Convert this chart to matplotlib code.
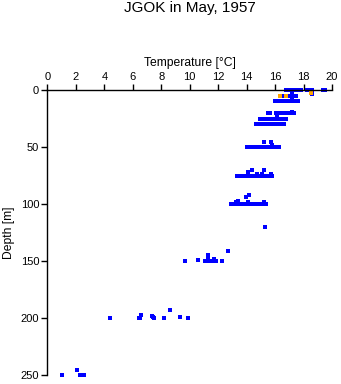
import numpy as np
import matplotlib
matplotlib.use('Agg')
import matplotlib.pyplot as plt

# standard depth levels [m] and the temperatures measured at each [degC]
levels = [0, 5, 10, 20, 25, 30, 50, 75, 100, 150, 200, 250]
t_0 = [16.75, 16.85, 16.95, 17.05, 17.15, 17.25, 17.35, 17.45, 17.55, 17.65,
       17.75, 17.85, 18.25, 18.35, 18.45, 18.6, 19.35, 19.5]
t_5 = [16.6, 16.95, 17.05, 17.15, 17.25, 17.35, 17.45]
t_10 = [16.0, 16.1, 16.4, 16.5, 16.6, 16.7, 16.8, 16.9, 17.0, 17.1, 17.2,
        17.3, 17.4, 17.5, 17.6]
t_20 = [15.5, 15.65, 16.05, 16.15, 16.25, 16.35, 16.45, 16.55, 16.65, 16.75,
        16.85, 17.1, 17.2, 17.35]
t_25 = [14.95, 15.05, 15.15, 15.25, 15.35, 15.55, 15.65, 15.75, 15.85, 15.95,
        16.05, 16.15, 16.25, 16.35, 16.45, 16.55, 16.65, 16.75]
t_30 = [14.65, 14.75, 14.85, 14.95, 15.05, 15.15, 15.45, 15.6, 15.75, 15.85,
        15.95, 16.05, 16.15, 16.25, 16.35, 16.45, 16.55, 16.65]
t_50 = [14.05, 14.15, 14.25, 14.35, 14.45, 14.55, 14.75, 14.85, 14.95, 15.05,
        15.15, 15.25, 15.35, 15.45, 15.55, 15.65, 15.75, 15.95, 16.05, 16.15,
        16.3]
t_75 = [13.35, 13.45, 13.55, 13.65, 13.75, 13.85, 13.95, 14.05, 14.15, 14.25,
        14.35, 14.45, 14.55, 14.65, 14.75, 14.85, 14.95, 15.05, 15.15, 15.25,
        15.35, 15.5, 15.65, 15.8]
t_100 = [12.9, 13.0, 13.1, 13.2, 13.3, 13.55, 13.65, 13.75, 13.85, 13.95,
         14.05, 14.15, 14.35, 14.55, 14.65, 14.95, 15.05, 15.15, 15.25, 15.35]
t_150 = [9.7, 11.05, 11.15, 11.3, 11.45, 11.6, 11.75, 11.85, 12.3]
t_200 = [4.4, 6.4, 6.5, 7.5, 8.2, 9.9]
t_250 = [1.0, 2.3, 2.6]

# odd depths
odd_depth = [2.4, 3.5, 8, 19, 23.4, 45.3, 46, 48.5, 70, 70.5, 72, 73.7, 73.7,
             73.7, 98, 98, 98.5, 97, 94, 92, 120, 141, 149, 146.7, 144.7,
             148.5, 197.4, 198.2, 199, 193.3, 199.4, 246]
odd_temp = [17.2, 18.6, 17.2, 17.2, 16.15, 15.2, 15.7, 15.75, 15.2, 14.4,
            14.1, 14.7, 15.1, 15.7, 13.25, 14.1, 15.2, 13.4, 13.95, 14.2,
            15.3, 12.7, 10.6, 11.3, 11.3, 11.7, 6.6, 7.35, 7.45, 8.6, 9.3, 2.1]

# second series (orange)
or_depth = [3, 5, 5]
or_temp = [18.55, 16.35, 16.8]

rows = [t_0, t_5, t_10, t_20, t_25, t_30, t_50, t_75, t_100, t_150, t_200, t_250]
temp = np.concatenate([np.array(r, float) for r in rows] + [np.array(odd_temp)])
depth = np.concatenate([np.full(len(r), d, float) for r, d in zip(rows, levels)]
                       + [np.array(odd_depth)])

plt.rcParams['font.family'] = ['Liberation Sans', 'DejaVu Sans']

fig = plt.figure(figsize=[3.41, 3.84], dpi=100)
ax = fig.add_axes([47.5 / 341, 1 - 375 / 384, (332 - 47.5) / 341, (375 - 90) / 384])

ax.plot(temp, depth, 's', color='#0000ff', ms=2.22, mew=0, clip_on=False)
ax.plot(or_temp, or_depth, 's', color='#ffa500', ms=2.4, mew=0, clip_on=False)

ax.set_xlim(0, 20)
ax.set_ylim(250, 0)
ax.set_xticks(range(0, 21, 2))
ax.set_yticks(range(0, 251, 50))
ax.xaxis.tick_top()
ax.xaxis.set_label_position('top')
ax.set_xlabel('Temperature [°C]', fontsize=8.7, labelpad=4)
ax.set_ylabel('Depth [m]', fontsize=8.7, labelpad=4)
ax.tick_params(direction='out', length=4, width=1, labelsize=8, pad=2)
ax.spines['right'].set_visible(False)
ax.spines['bottom'].set_visible(False)
for s in ['top', 'left']:
    ax.spines[s].set_linewidth(1)

fig.text(189.8 / 341, 1 - 1 / 384, 'JGOK in May, 1957', ha='center', va='top',
         fontsize=11)

fig.savefig('out.png', dpi=100)
